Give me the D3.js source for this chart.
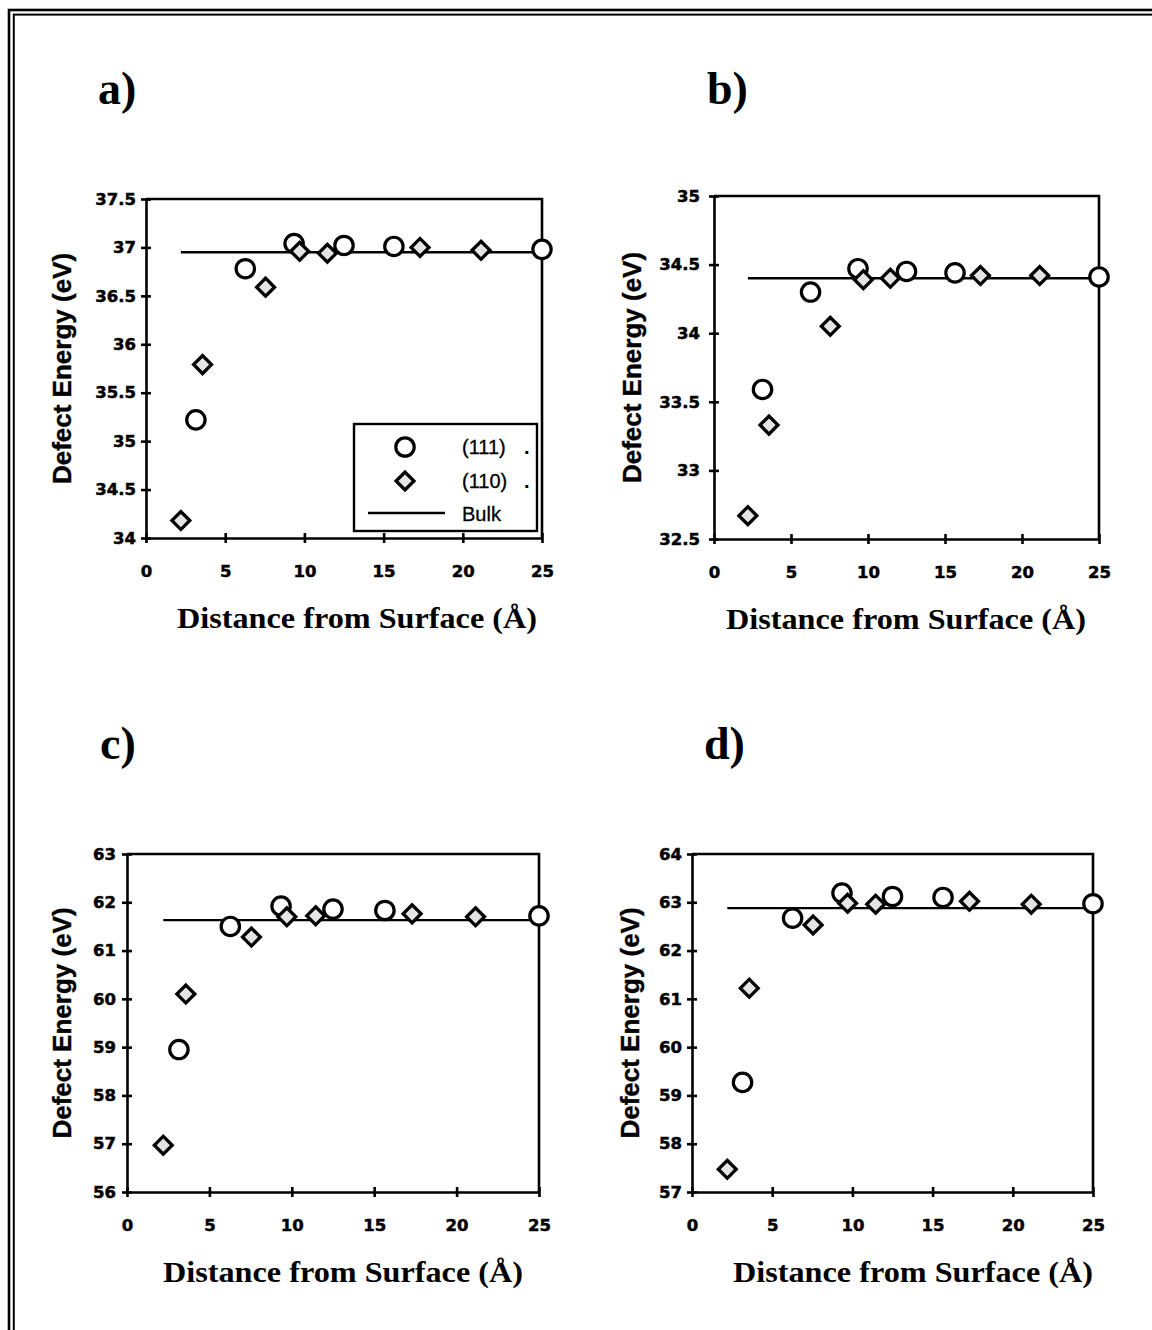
<!DOCTYPE html>
<html>
<head>
<meta charset="utf-8">
<script src="https://cdn.jsdelivr.net/npm/d3@7"></script>
<style>
body { margin: 0; background: #fff; }
svg { display: block; }
</style>
</head>
<body>
<svg id="fig" width="1152" height="1330"></svg>
<script>
// distances from the surface (A), same sites in every panel
var distance111 = [3.15, 6.27, 9.35, 12.5, 15.65, 25];
var distance110 = [2.2, 3.57, 7.55, 9.7, 11.45, 17.3, 21.15];
var bulkRange   = [2.2, 25];
var xTicks      = [0, 5, 10, 15, 20, 25];

// defect energies (eV)
var energyA111 = [35.22, 36.78, 37.04, 37.02, 37.01, 36.98];
var energyA110 = [34.18, 35.79, 36.59, 36.96, 36.94, 37.0, 36.97];
var bulkA      = 36.95;
var yTicksA    = [34, 34.5, 35, 35.5, 36, 36.5, 37, 37.5];

var energyB111 = [33.59, 34.30, 34.47, 34.45, 34.44, 34.41];
var energyB110 = [32.67, 33.33, 34.05, 34.39, 34.40, 34.42, 34.42];
var bulkB      = 34.40;
var yTicksB    = [32.5, 33, 33.5, 34, 34.5, 35];

var energyC111 = [58.95, 61.5, 61.92, 61.86, 61.83, 61.72];
var energyC110 = [56.97, 60.1, 61.28, 61.7, 61.72, 61.76, 61.7];
var bulkC      = 61.63;
var yTicksC    = [56, 57, 58, 59, 60, 61, 62, 63];

var energyD111 = [59.27, 62.67, 63.19, 63.12, 63.1, 62.97];
var energyD110 = [57.47, 61.22, 62.53, 62.98, 62.96, 63.02, 62.96];
var bulkD      = 62.88;
var yTicksD    = [57, 58, 59, 60, 61, 62, 63, 64];

var panelNames = ['a)', 'b)', 'c)', 'd)'];
var legendNames = ['(111)', '(110)', 'Bulk'];

var panels = [
  {name: panelNames[0], e111: energyA111, e110: energyA110, bulk: bulkA, yTicks: yTicksA,
   left: 146, right: 542, top: 199, bottom: 538, labelX: 98, labelY: 104, yLabelX: 62, titleX: 357, pad: 5},
  {name: panelNames[1], e111: energyB111, e110: energyB110, bulk: bulkB, yTicks: yTicksB,
   left: 714, right: 1099, top: 196, bottom: 539, labelX: 707, labelY: 104, yLabelX: 632, titleX: 906, pad: 9},
  {name: panelNames[2], e111: energyC111, e110: energyC110, bulk: bulkC, yTicks: yTicksC,
   left: 127, right: 539, top: 854, bottom: 1192, labelX: 100, labelY: 759, yLabelX: 62, titleX: 343, pad: 6},
  {name: panelNames[3], e111: energyD111, e110: energyD110, bulk: bulkD, yTicks: yTicksD,
   left: 692, right: 1093, top: 854, bottom: 1192, labelX: 704, labelY: 759, yLabelX: 630, titleX: 913, pad: 5}
];

var svg = d3.select('#fig');

// double frame round the figure
svg.append('rect').attr('x', 9).attr('y', 10).attr('width', 1300).attr('height', 1500)
   .attr('fill', 'none').attr('stroke', '#000').attr('stroke-width', 2.6);
svg.append('rect').attr('x', 13.8).attr('y', 14.6).attr('width', 1300).attr('height', 1500)
   .attr('fill', 'none').attr('stroke', '#000').attr('stroke-width', 2);

var diamond = d3.symbol().type(d3.symbolSquare).size(160);

function drawPanel(p) {
  var x = d3.scaleLinear().domain([0, 25]).range([p.left, p.right]);
  var y = d3.scaleLinear().domain([p.yTicks[0], p.yTicks[p.yTicks.length - 1]])
            .range([p.bottom, p.top]);
  var g = svg.append('g');

  // top and right edges of the box
  g.append('path')
   .attr('d', 'M' + p.left + ',' + p.top + 'H' + p.right + 'V' + p.bottom)
   .attr('fill', 'none').attr('stroke', '#000').attr('stroke-width', 2.6);

  var xa = g.append('g').attr('transform', 'translate(0,' + p.bottom + ')')
    .call(d3.axisBottom(x).tickValues(xTicks).tickSize(5).tickSizeOuter(0).tickPadding(22));
  xa.selectAll('.tick line').attr('y1', -5);

  var ya = g.append('g').attr('transform', 'translate(' + p.left + ',0)')
    .call(d3.axisLeft(y).tickValues(p.yTicks).tickSize(5).tickSizeOuter(0)
          .tickPadding(p.pad).tickFormat(function(d) { return String(d); }));
  ya.selectAll('.tick line').attr('x1', 5);

  [xa, ya].forEach(function(a) {
    a.attr('font-family', 'DejaVu Sans').attr('font-weight', 'bold').attr('font-size', 16.5);
    a.selectAll('path, line').attr('stroke', '#000').attr('stroke-width', 2.6);
    a.selectAll('text').attr('fill', '#000').attr('stroke', '#000').attr('stroke-width', 0.5);
  });

  // bulk value
  g.append('line')
   .attr('x1', x(bulkRange[0])).attr('x2', x(bulkRange[1]))
   .attr('y1', y(p.bulk)).attr('y2', y(p.bulk))
   .attr('stroke', '#000').attr('stroke-width', 2.4);

  g.selectAll('circle.s111').data(d3.zip(distance111, p.e111)).join('circle')
   .attr('class', 's111')
   .attr('cx', function(d) { return x(d[0]); })
   .attr('cy', function(d) { return y(d[1]); })
   .attr('r', 9.2)
   .attr('fill', '#fff').attr('stroke', '#000').attr('stroke-width', 3.2);

  g.selectAll('path.s110').data(d3.zip(distance110, p.e110)).join('path')
   .attr('class', 's110')
   .attr('d', diamond)
   .attr('transform', function(d) { return 'translate(' + x(d[0]) + ',' + y(d[1]) + ') rotate(45)'; })
   .attr('fill', '#e4e4e4').attr('stroke', '#000').attr('stroke-width', 3.3);

  // labels
  svg.append('text').attr('x', p.labelX).attr('y', p.labelY)
     .attr('font-family', 'Liberation Serif').attr('font-weight', 'bold').attr('font-size', 46)
     .text(p.name);

  svg.append('text')
     .attr('transform', 'translate(' + p.yLabelX + ',' + ((p.top + p.bottom) / 2) + ') rotate(-90)')
     .attr('text-anchor', 'middle').attr('dominant-baseline', 'central')
     .attr('font-family', 'Liberation Sans').attr('font-weight', 'bold').attr('font-size', 26)
     .attr('stroke', '#000').attr('stroke-width', 0.4)
     .text('Defect Energy (eV)');

  svg.append('text').attr('x', p.titleX).attr('y', p.bottom + 90)
     .attr('text-anchor', 'middle')
     .attr('font-family', 'Liberation Serif').attr('font-weight', 'bold').attr('font-size', 29)
     .attr('textLength', 360).attr('lengthAdjust', 'spacingAndGlyphs')
     .text('Distance from Surface (\u00C5)');
}

panels.forEach(drawPanel);

// legend, only in panel a
var leg = svg.append('g');
leg.append('rect').attr('x', 354).attr('y', 424).attr('width', 183).attr('height', 107)
   .attr('fill', '#fff').attr('stroke', '#000').attr('stroke-width', 2.4);
leg.append('circle').attr('cx', 405).attr('cy', 447).attr('r', 9.2)
   .attr('fill', '#fff').attr('stroke', '#000').attr('stroke-width', 3.2);
leg.append('path').attr('d', diamond).attr('transform', 'translate(405,481) rotate(45)')
   .attr('fill', '#e4e4e4').attr('stroke', '#000').attr('stroke-width', 3.3);
leg.append('line').attr('x1', 368).attr('x2', 445).attr('y1', 513).attr('y2', 513)
   .attr('stroke', '#000').attr('stroke-width', 2.4);
leg.selectAll('text.name').data(legendNames).join('text')
   .attr('class', 'name')
   .attr('x', 462).attr('y', function(d, i) { return [454, 488, 521][i]; })
   .attr('font-family', 'Liberation Sans').attr('font-size', 20)
   .attr('stroke', '#000').attr('stroke-width', 0.3)
   .text(function(d) { return d; });
leg.selectAll('text.dot').data(legendNames.slice(0, 2)).join('text')
   .attr('class', 'dot')
   .attr('x', 524).attr('y', function(d, i) { return [454, 488][i]; })
   .attr('font-family', 'Liberation Sans').attr('font-weight', 'bold').attr('font-size', 20)
   .text('.');
</script>
</body>
</html>
